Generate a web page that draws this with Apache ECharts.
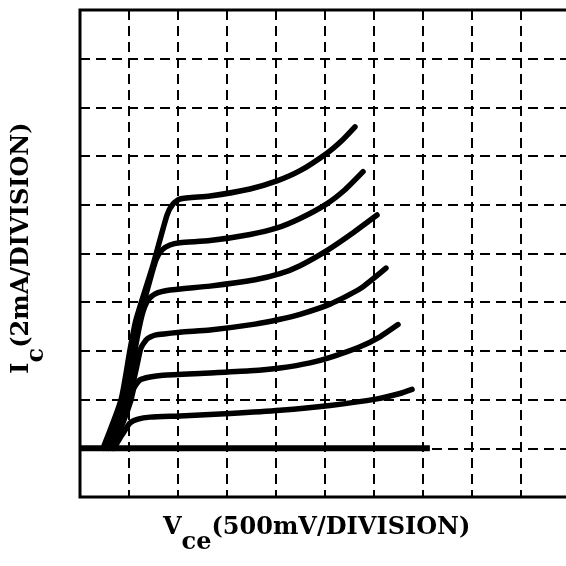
<!DOCTYPE html>
<html><head><meta charset="utf-8">
<script src="https://cdn.jsdelivr.net/npm/echarts/dist/echarts.min.js"></script>
<style>html,body{margin:0;padding:0;background:#fff}#c{width:566px;height:566px}</style>
</head><body><div id="c"></div>
<script>
// Axis scales: 500 mV per division (x), 2 mA per division (y)
const xMin = 0, xMax = 5, xStep = 0.5;      // V
const yMin = -2, yMax = 18, yStep = 2;      // mA

// Zero-current trace
const base_V  = [0, 3.57];
const base_mA = [0, 0];

// Six collector-current curves (top to bottom), Vce in V, Ic in mA
const A_V  = [0.235, 0.418, 0.510, 0.571, 0.745, 0.888, 0.949, 1.020, 1.327, 1.735, 2.010, 2.245, 2.520, 2.673, 2.806];
const A_mA = [0, 1.98, 4.04, 5.27, 7.53, 9.58, 10.03, 10.24, 10.36, 10.65, 10.98, 11.40, 12.12, 12.64, 13.20];

const B_V  = [0.265, 0.449, 0.541, 0.612, 0.714, 0.776, 0.837, 0.918, 1.020, 1.327, 1.735, 2.010, 2.245, 2.510, 2.704, 2.888];
const B_mA = [0, 1.98, 4.04, 5.36, 6.91, 7.74, 8.15, 8.35, 8.44, 8.53, 8.78, 9.05, 9.44, 10.02, 10.62, 11.36];

const C_V  = [0.286, 0.480, 0.561, 0.633, 0.694, 0.765, 0.918, 1.327, 1.786, 2.041, 2.245, 2.531, 2.776, 3.031];
const C_mA = [0, 1.98, 4.04, 5.47, 6.09, 6.34, 6.50, 6.66, 6.92, 7.17, 7.50, 8.15, 8.82, 9.58];

const D_V  = [0.306, 0.500, 0.582, 0.622, 0.684, 0.765, 1.020, 1.327, 1.786, 2.041, 2.245, 2.551, 2.857, 3.122];
const D_mA = [0, 1.98, 3.42, 4.12, 4.49, 4.65, 4.77, 4.86, 5.10, 5.30, 5.50, 5.92, 6.55, 7.40];

const E_V  = [0.327, 0.449, 0.520, 0.551, 0.612, 0.714, 0.847, 1.327, 1.735, 2.041, 2.347, 2.602, 2.857, 3.061, 3.245];
const E_mA = [0, 1.16, 1.98, 2.48, 2.81, 2.93, 3.00, 3.09, 3.18, 3.30, 3.51, 3.80, 4.17, 4.58, 5.08];

const F_V  = [0.347, 0.429, 0.510, 0.592, 0.714, 1.020, 1.531, 2.041, 2.551, 3.031, 3.265, 3.388];
const F_mA = [0, 0.55, 1.04, 1.20, 1.28, 1.33, 1.43, 1.56, 1.76, 2.03, 2.25, 2.42];

const xTitleRich = '{m|V}{s|ce}{m|(500mV/DIVISION)}';
const yTitleRich = '{m|I}{s|c}{m|(2mA/DIVISION)}';

const curves = [[A_V, A_mA], [B_V, B_mA], [C_V, C_mA], [D_V, D_mA], [E_V, E_mA], [F_V, F_mA]];
const zip = (xs, ys) => xs.map((v, i) => [v, ys[i]]);

const dashed = { color: '#000', width: 2, type: [10, 6] };
const font = { fontFamily: 'DejaVu Serif', fontWeight: 'bold', fontSize: 24, lineHeight: 26, verticalAlign: 'top', fill: '#000' };
const rich = { m: Object.assign({}, font), s: Object.assign({}, font, { padding: [15, 0, 0, 0] }) };

const series = [{
  type: 'line', data: zip(base_V, base_mA), showSymbol: false, symbol: 'none', silent: true,
  lineStyle: { color: '#000', width: 6, cap: 'butt' }, z: 3
}].concat(curves.map(c => ({
  type: 'line', data: zip(c[0], c[1]), showSymbol: false, symbol: 'none', silent: true,
  smooth: 0.2,
  lineStyle: { color: '#000', width: 5.5, cap: 'round', join: 'round' }, z: 3
})));

const chart = echarts.init(document.getElementById('c'), null, { renderer: 'canvas' });
chart.setOption({
  animation: false,
  backgroundColor: '#fff',
  grid: { left: 80, top: 10, width: 490, height: 487, outerBoundsMode: 'none', containLabel: false,
          show: true, borderColor: '#000', borderWidth: 3, backgroundColor: 'transparent' },
  xAxis: {
    type: 'value', min: xMin, max: xMax, interval: xStep,
    axisLine: { show: false }, axisTick: { show: false }, axisLabel: { show: false },
    splitLine: { show: true, lineStyle: dashed }
  },
  yAxis: {
    type: 'value', min: yMin, max: yMax, interval: yStep,
    axisLine: { show: false }, axisTick: { show: false }, axisLabel: { show: false },
    splitLine: { show: true, lineStyle: dashed }
  },
  graphic: [
    { type: 'text', x: 163, y: 516, silent: true,
      style: { text: xTitleRich, rich: rich, align: 'left', verticalAlign: 'top', fill: '#000' } },
    { type: 'text', x: 10, y: 248, rotation: Math.PI / 2, silent: true,
      style: { text: yTitleRich, rich: rich, align: 'center', verticalAlign: 'top', fill: '#000' } }
  ],
  series: series
});
</script></body></html>
